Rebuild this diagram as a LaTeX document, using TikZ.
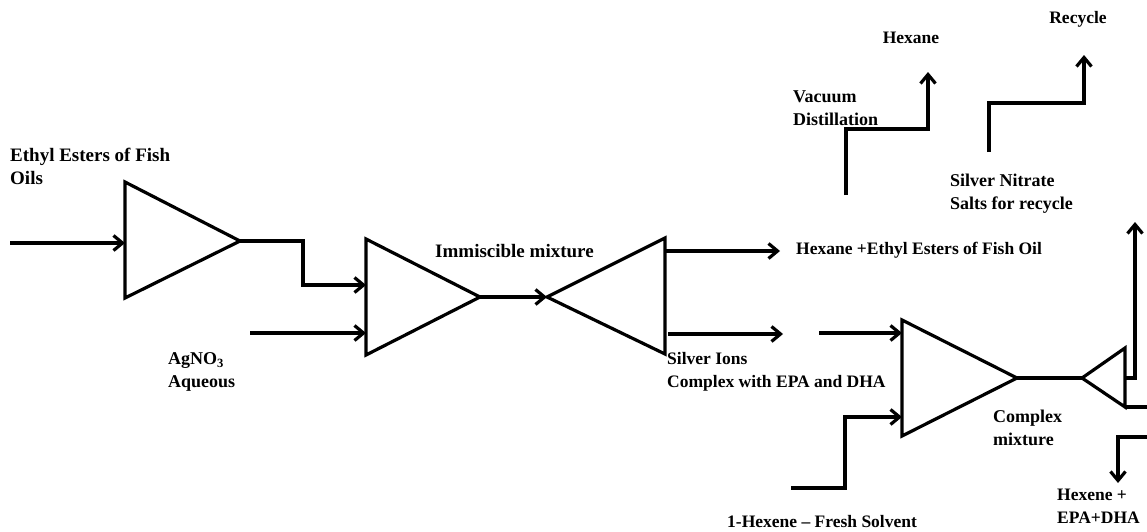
\documentclass[tikz,border=0pt]{standalone}
\usepackage{fontspec}
\setmainfont{Liberation Serif}
\usetikzlibrary{arrows.meta}

\begin{document}
\begin{tikzpicture}[x=1pt,y=-1pt,
  flow/.style={line width=3.2pt, line join=miter},
  feed/.style={flow,-{Straight Barb[length=9pt,width=15pt]}},
  unitbox/.style={line width=3.2pt, line join=miter},
  lbl/.style={font=\bfseries\fontsize{19}{23}\selectfont, align=left, inner sep=0pt, anchor=west},
  mlbl/.style={font=\bfseries\fontsize{18}{23}\selectfont, align=left, inner sep=0pt, anchor=west},
  slbl/.style={font=\bfseries\fontsize{17.5}{23}\selectfont, align=left, inner sep=0pt, anchor=west}]

\useasboundingbox (0,0) rectangle (1147,531);

% ---- process units (triangles) ----
\coordinate (A1) at (125,182); \coordinate (B1) at (125,298); \coordinate (C1) at (240,241);
\coordinate (A2) at (366,239); \coordinate (B2) at (366,355); \coordinate (C2) at (480,297);
\coordinate (A3) at (665,238); \coordinate (B3) at (665,354); \coordinate (C3) at (547,297);
\coordinate (A4) at (902,320); \coordinate (B4) at (902,436); \coordinate (C4) at (1017,378);
\coordinate (A5) at (1125,348); \coordinate (B5) at (1125,407); \coordinate (C5) at (1082,378);

\draw[unitbox] (A1) -- (B1) -- (C1) -- cycle;
\draw[unitbox] (A2) -- (B2) -- (C2) -- cycle;
\draw[unitbox] (A3) -- (B3) -- (C3) -- cycle;
\draw[unitbox] (A4) -- (B4) -- (C4) -- cycle;
\draw[unitbox] (A5) -- (B5) -- (C5) -- cycle;

% ---- stream points ----
\coordinate (in1) at (10,243);   \coordinate (t1in) at (125,243);
\coordinate (j1) at (303,285);   \coordinate (t2in1) at (366,285);
\coordinate (ag) at (250,333);   \coordinate (t2in2) at (366,333);
\coordinate (o3a) at (665,251);  \coordinate (hexout) at (780,251);
\coordinate (o3b) at (668,334);  \coordinate (silvout) at (783,334);
\coordinate (s4) at (819,333);   \coordinate (t4in1) at (902,333);
\coordinate (hx) at (791,488);   \coordinate (j4) at (845,417);
\coordinate (t4in2) at (902,417);
\coordinate (o5a) at (1125,378); \coordinate (rec2) at (1135,222);
\coordinate (edge1) at (1147,407);
\coordinate (edge2) at (1147,437); \coordinate (prod) at (1118,483);
\coordinate (vd) at (846,195);   \coordinate (j2) at (928,129);
\coordinate (hexup) at (928,72);
\coordinate (sn) at (989,152);   \coordinate (j3) at (1084,103);
\coordinate (recup) at (1084,55);

% ---- streams ----
\draw[feed] (in1) -- (t1in);
\draw[feed] (C1) -| (j1) -- (t2in1);
\draw[feed] (ag) -- (t2in2);
\draw[feed] (C2) -- (C3);
\draw[feed] (o3a) -- (hexout);
\draw[feed] (o3b) -- (silvout);
\draw[feed] (s4) -- (t4in1);
\draw[feed] (hx) -| (j4) -- (t4in2);
\draw[flow] (C4) -- (C5);
\draw[feed] (o5a) -| (rec2);
\draw[flow] (B5) -- (edge1);
\draw[feed] (edge2) -| (prod);
\draw[feed] (vd) |- (j2) -- (hexup);
\draw[feed] (sn) |- (j3) -- (recup);

% ---- labels ----
\node[lbl] (lfeed) at (10,166) {Ethyl Esters of Fish\\Oils};
\node[mlbl] (lag) at (168,372) {AgNO\textsubscript{3}\\Aqueous};
\node[lbl] (limm) at (435,251) {Immiscible mixture};
\node[slbl] (lhex) at (796,250) {Hexane +Ethyl Esters of Fish Oil};
\node[slbl] (lsil) at (667,372) {Silver Ions\\Complex with EPA and DHA};
\node[mlbl] (lvac) at (793,108) {Vacuum\\Distillation};
\node[slbl, anchor=center] (lhx) at (911,38) {Hexane};
\node[slbl, anchor=center] (lrec) at (1078,19) {Recycle};
\node[mlbl] (lsn) at (950,194) {Silver Nitrate\\Salts for recycle};
\node[mlbl] (lcm) at (993,428) {Complex\\mixture};
\node[slbl] (lfs) at (727,522) {1-Hexene -- Fresh Solvent};
\node[slbl] (lprod) at (1057,506) {Hexene +\\EPA+DHA};
\end{tikzpicture}
\end{document}
